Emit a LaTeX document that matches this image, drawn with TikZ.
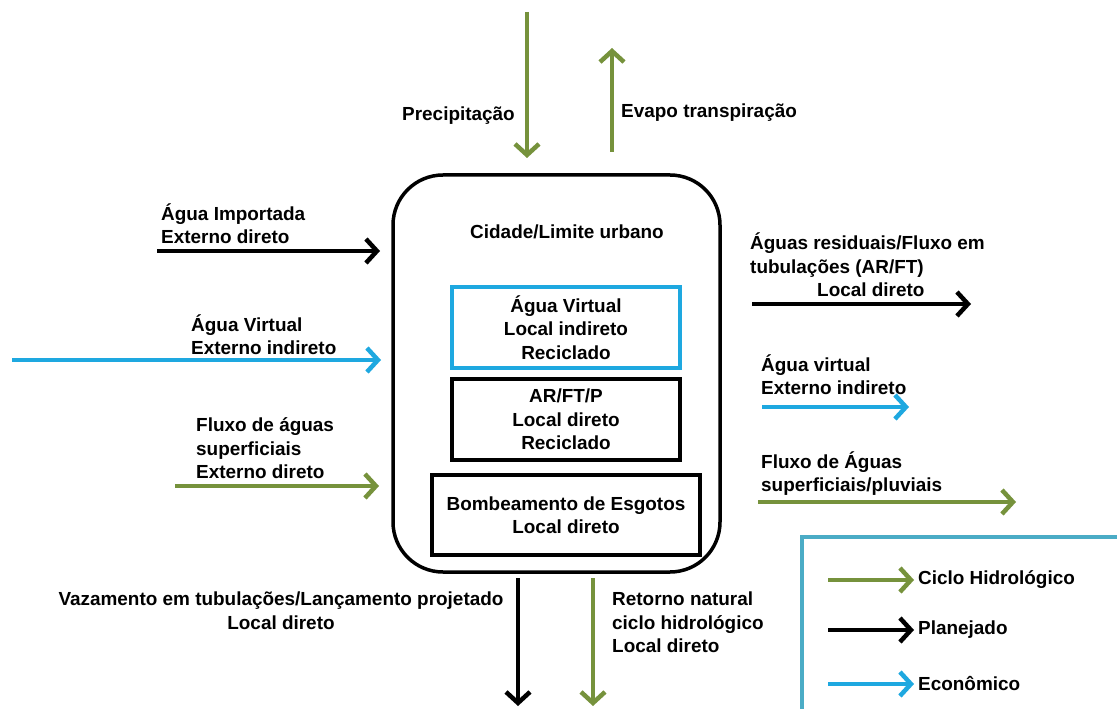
\documentclass[tikz,border=0pt]{standalone}
\usepackage{fontspec}
\setmainfont{Liberation Sans}
\usetikzlibrary{arrows.meta}
\definecolor{hydro}{RGB}{118,146,60}
\definecolor{econ}{RGB}{30,168,224}
\definecolor{legframe}{RGB}{75,172,198}
\begin{document}
\begin{tikzpicture}[x=1bp,y=-1bp,
  every node/.style={font=\fontsize{19}{23.5}\selectfont\bfseries, inner sep=0pt},
  flow/.style={line width=4.5bp, -{Straight Barb[length=11bp,width=24bp]}},
  hflow/.style={flow, hydro},
  pflow/.style={flow, black},
  eflow/.style={flow, econ},
  innerbox/.style={draw, line width=3.5bp, minimum width=228bp, minimum height=81bp, align=center}]
\useasboundingbox (0,0) rectangle (1117,709);

% city boundary
\node[draw, line width=3.5bp, rounded corners=50bp, minimum width=327bp, minimum height=397bp] (city) at (556.5,373.5) {};
\node (citylbl) at (567,232) {Cidade/Limite urbano};

% inner boxes
\node[innerbox, draw=econ] (virt) at (566,327.5) {Água Virtual\\ Local indireto\\ Reciclado};
\node[innerbox] (arft) at (566,419.5) {AR/FT/P\\ Local direto\\ Reciclado};
\node[innerbox, minimum width=268bp, minimum height=80bp] (bomb) at (566,515) {Bombeamento de Esgotos\\ Local direto};

% top flows
\coordinate (precA) at (527,12);
\coordinate (precB) at (527,158);
\draw[hflow] (precA) -- (precB);
\node[anchor=east] (preclbl) at (515,116) {Precipitação};
\coordinate (evapA) at (612,152);
\coordinate (evapB) at (612,48);
\draw[hflow] (evapA) -- (evapB);
\node[anchor=west] (evaplbl) at (621,113) {Evapo transpiração};

% incoming flows (left)
\coordinate (impA) at (157,251);
\coordinate (impB) at (380,251);
\draw[pflow] (impA) -- (impB);
\node[anchor=south west, align=left] (implbl) at (161,244) {Água Importada\\ Externo direto};

\coordinate (vinA) at (12,360);
\coordinate (vinB) at (381,360);
\draw[eflow] (vinA) -- (vinB);
\node[anchor=south west, align=left] (vinlbl) at (191,355) {Água Virtual\\ Externo indireto};

\coordinate (sinA) at (175,486);
\coordinate (sinB) at (379,486);
\draw[hflow] (sinA) -- (sinB);
\node[anchor=south west, align=left] (sinlbl) at (196,479) {Fluxo de águas\\ superficiais\\ Externo direto};

% outgoing flows (right)
\coordinate (wwA) at (752,304);
\coordinate (wwB) at (971,304);
\draw[pflow] (wwA) -- (wwB);
\node[anchor=south west, align=left] (wwlbl) at (750,297) {Águas residuais/Fluxo em\\ tubulações (AR/FT)\\ \hspace*{67bp}Local direto};

\coordinate (voutA) at (762,407);
\coordinate (voutB) at (909,407);
\draw[eflow] (voutA) -- (voutB);
\node[anchor=south west, align=left] (voutlbl) at (761,395) {Água virtual\\ Externo indireto};

\coordinate (soutA) at (758,502);
\coordinate (soutB) at (1016,502);
\draw[hflow] (soutA) -- (soutB);
\node[anchor=south west, align=left] (soutlbl) at (761,496) {Fluxo de Águas\\ superficiais/pluviais};

% bottom flows
\coordinate (leakA) at (518,578);
\coordinate (leakB) at (518,706);
\draw[pflow] (leakA) -- (leakB);
\node[anchor=north, align=center] (leaklbl) at (281,592) {Vazamento em tubulações/Lançamento projetado\\ Local direto};
\coordinate (retA) at (593,578);
\coordinate (retB) at (593,706);
\draw[hflow] (retA) -- (retB);
\node[anchor=north west, align=left] (retlbl) at (612,592) {Retorno natural\\ ciclo hidrológico\\ Local direto};

% legend
\draw[legframe, line width=4bp] (802,537) rectangle (1130,720);
\coordinate (lgA) at (828,580);
\coordinate (lgB) at (914,580);
\draw[hflow] (lgA) -- (lgB);
\node[anchor=west] (lglbl) at (918,580) {Ciclo Hidrológico};
\coordinate (lpA) at (828,630);
\coordinate (lpB) at (914,630);
\draw[pflow] (lpA) -- (lpB);
\node[anchor=west] (lplbl) at (918,630) {Planejado};
\coordinate (leA) at (828,684);
\coordinate (leB) at (914,684);
\draw[eflow] (leA) -- (leB);
\node[anchor=west] (lelbl) at (918,684) {Econômico};
\end{tikzpicture}
\end{document}
